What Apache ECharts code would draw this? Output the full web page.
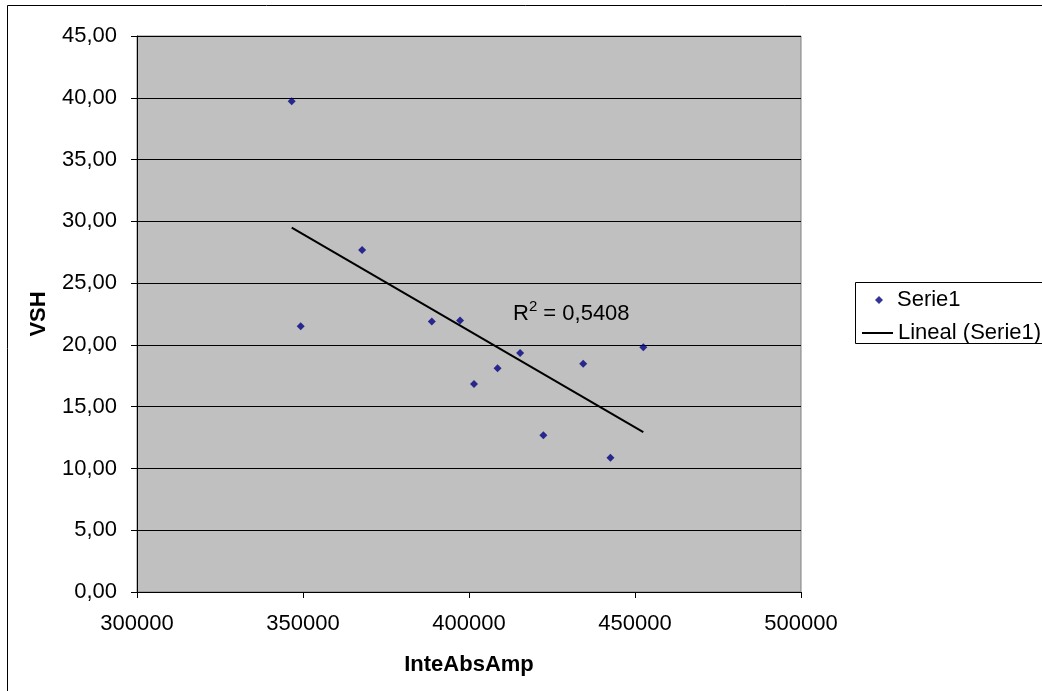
<!DOCTYPE html>
<html>
<head>
<meta charset="utf-8">
<script src="https://cdn.jsdelivr.net/npm/echarts@6/dist/echarts.min.js"></script>
<style>
html,body{margin:0;padding:0;background:#fff;}
#chart{width:1042px;height:691px;}
</style>
</head>
<body>
<div id="chart"></div>
<script>
// Data
const xValues = [346600, 349300, 367800, 388800, 397300, 401500, 408600, 415400, 422400, 434400, 442600, 452500];
const yValues = [39.72, 21.50, 27.67, 21.90, 21.98, 16.83, 18.10, 19.34, 12.68, 18.47, 10.87, 19.80];
const trendX = [346600, 452500];
const trendY = [29.50, 12.94];
const seriesName = 'Serie1';
const trendName = 'Lineal (Serie1)';
const r2Text = '0,5408';
const r2Pos = [413250, 22.65];
const xTitle = 'InteAbsAmp';
const yTitle = 'VSH';

const scatterData = xValues.map((x, i) => [x, yValues[i]]);
const trendData = trendX.map((x, i) => [x, trendY[i]]);
const FONT = 'Liberation Sans, Arial, sans-serif';
const FS = 22;

const chart = echarts.init(document.getElementById('chart'), null, {renderer: 'canvas'});
chart.setOption({
  animation: false,
  backgroundColor: '#ffffff',
  textStyle: {fontFamily: FONT, color: '#000'},
  graphic: [
    {type: 'rect', z: -10, silent: true, shape: {x: 7.5, y: 5.5, width: 1200, height: 1000},
     style: {fill: 'none', stroke: '#000', lineWidth: 1}},
    {type: 'rect', z: 1, silent: true, shape: {x: 855.5, y: 282.5, width: 300, height: 61},
     style: {fill: '#fff', stroke: '#000', lineWidth: 1}}
  ],
  grid: {
    left: 137, right: 241, top: 36, bottom: 99,
    show: true, backgroundColor: '#C0C0C0', borderColor: '#808080', borderWidth: 1
  },
  legend: [
    {
      left: 875, top: 289, padding: 0, z: 10,
      itemWidth: 8, itemHeight: 8,
      formatter: name => '{g|}{t|' + name + '}',
      textStyle: {fontSize: FS, fontFamily: FONT, color: '#000',
        rich: {g: {width: 9}, t: {fontSize: FS, fontFamily: FONT, color: '#000'}}},
      data: [{name: seriesName, icon: 'diamond'}]
    },
    {
      left: 862, top: 322, padding: 0, z: 10,
      itemWidth: 31, itemHeight: 2,
      textStyle: {fontSize: FS, fontFamily: FONT, color: '#000'},
      data: [{name: trendName, icon: 'rect'}]
    }
  ],
  xAxis: {
    type: 'value', min: 300000, max: 500000, interval: 50000,
    name: xTitle, nameLocation: 'middle', nameGap: 62,
    nameTextStyle: {fontSize: FS, fontWeight: 'bold', fontFamily: FONT, color: '#000'},
    axisLine: {show: true, onZero: false, lineStyle: {color: '#000', width: 1}},
    axisTick: {show: true, inside: false, length: 6, lineStyle: {color: '#000'}},
    axisLabel: {fontSize: FS, fontFamily: FONT, color: '#000', margin: 21,
      formatter: v => String(v)},
    splitLine: {show: false}
  },
  yAxis: {
    type: 'value', min: 0, max: 45, interval: 5,
    name: yTitle, nameLocation: 'middle', nameGap: 87, nameRotate: 90,
    nameTextStyle: {fontSize: FS, fontWeight: 'bold', fontFamily: FONT, color: '#000'},
    axisLine: {show: true, onZero: false, lineStyle: {color: '#000', width: 1}},
    axisTick: {show: true, inside: false, length: 6, lineStyle: {color: '#000'}},
    axisLabel: {fontSize: FS, fontFamily: FONT, color: '#000', margin: 20,
      formatter: v => v.toFixed(2).replace('.', ',')},
    splitLine: {show: true, lineStyle: {color: '#000', width: 1}}
  },
  series: [
    {
      name: seriesName, type: 'scatter', data: scatterData,
      symbol: 'diamond', symbolSize: 8, z: 5,
      itemStyle: {color: '#000080'}
    },
    {
      name: trendName, type: 'line', data: trendData,
      symbol: 'none', showSymbol: false, z: 4,
      lineStyle: {color: '#000', width: 2},
      itemStyle: {color: '#000'},
      markPoint: {
        symbol: 'circle', symbolSize: 0,
        data: [{coord: r2Pos, value: r2Text}],
        label: {
          show: true, position: 'right', distance: 0,
          formatter: '{a|R}{s|2}{a| = ' + r2Text + '}',
          rich: {
            a: {fontSize: FS, fontFamily: FONT, color: '#000', lineHeight: 26, verticalAlign: 'bottom'},
            s: {fontSize: 15, fontFamily: FONT, color: '#000', lineHeight: 26, verticalAlign: 'top'}
          }
        }
      }
    }
  ]
});
</script>
</body>
</html>
